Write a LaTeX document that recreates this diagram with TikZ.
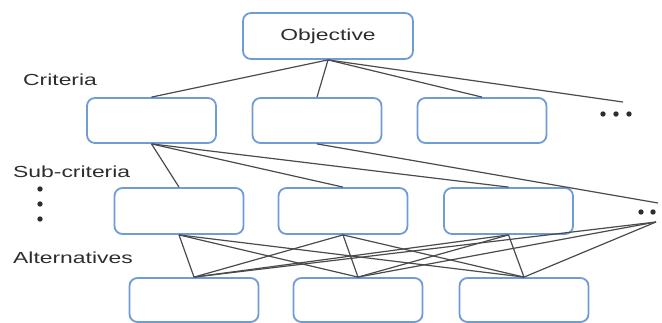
\documentclass[tikz,border=0pt]{standalone}
\usepackage{fontspec}
\setmainfont{Liberation Sans}

\definecolor{boxblue}{RGB}{112,156,214}
\definecolor{linegray}{RGB}{75,75,75}
\definecolor{textgray}{RGB}{45,45,45}

% text is set wider than the font's own shape
\newcommand{\widetext}[1]{\scalebox{1.43}[1]{#1}}

\begin{document}
\begin{tikzpicture}[x=1pt,y=-1pt,
  levelbox/.style={draw=boxblue, line width=1.8pt, rounded corners=8pt, fill=white,
    minimum width=129pt, minimum height=45pt, inner sep=0pt},
  link/.style={draw=linegray, line width=1.2pt},
  levellabel/.style={anchor=west, text=textgray, inner sep=0pt,
    font=\fontsize{16}{18}\selectfont}]

% Fix the picture size
\useasboundingbox (0,0) rectangle (662,322);

% Objective box
\node[levelbox, minimum width=170pt, minimum height=46pt, text=textgray,
  font=\fontsize{16}{18}\selectfont] (obj) at (328,36) {\widetext{Objective}};

% Criteria boxes
\node[levelbox] (crit1) at (151.5,120.5) {};
\node[levelbox] (crit2) at (317,120.5) {};
\node[levelbox] (crit3) at (482,120.5) {};

% Sub-criteria boxes
\node[levelbox, minimum height=46pt] (sub1) at (179,211) {};
\node[levelbox, minimum height=46pt] (sub2) at (343,211) {};
\node[levelbox, minimum height=46pt] (sub3) at (508.5,211) {};

% Alternative boxes
\node[levelbox, minimum height=44pt] (alt1) at (194,300) {};
\node[levelbox, minimum height=44pt] (alt2) at (358,300) {};
\node[levelbox, minimum height=44pt] (alt3) at (524,300) {};

% Ends of the lines that run to the dots
\coordinate (critdots) at (623,102);
\coordinate (subdotsin) at (658,203);
\coordinate (subdotsout) at (656,222);

% Objective to criteria
\foreach \c in {crit1,crit2,crit3}
  \draw[link] (obj.south) -- (\c.north);
\draw[link] (obj.south) -- (critdots);

% Criteria to sub-criteria
\foreach \s in {sub1,sub2,sub3}
  \draw[link] (crit1.south) -- (\s.north);
\draw[link] (crit2.south) -- (subdotsin);

% Sub-criteria to alternatives
\foreach \s in {sub1,sub2,sub3}
  \foreach \a in {alt1,alt2,alt3}
    \draw[link] (\s.south) -- (\a.north);
\foreach \a in {alt1,alt2,alt3}
  \draw[link] (subdotsout) -- (\a.north);

% Level labels
\node[levellabel] (critlabel) at (23,80) {\widetext{Criteria}};
\node[levellabel] (sublabel) at (13,172) {\widetext{Sub-criteria}};
\node[levellabel] (altlabel) at (13,258) {\widetext{Alternatives}};

% Dots for more criteria and sub-criteria
\foreach \x in {603,616,629}
  \fill[textgray] (\x,114) circle (2.7pt);
\foreach \x in {641,653}
  \fill[textgray] (\x,212) circle (2.7pt);

% Dots for more levels
\foreach \y in {189,204,219}
  \fill[textgray] (40,\y) circle (2.7pt);

\end{tikzpicture}
\end{document}
